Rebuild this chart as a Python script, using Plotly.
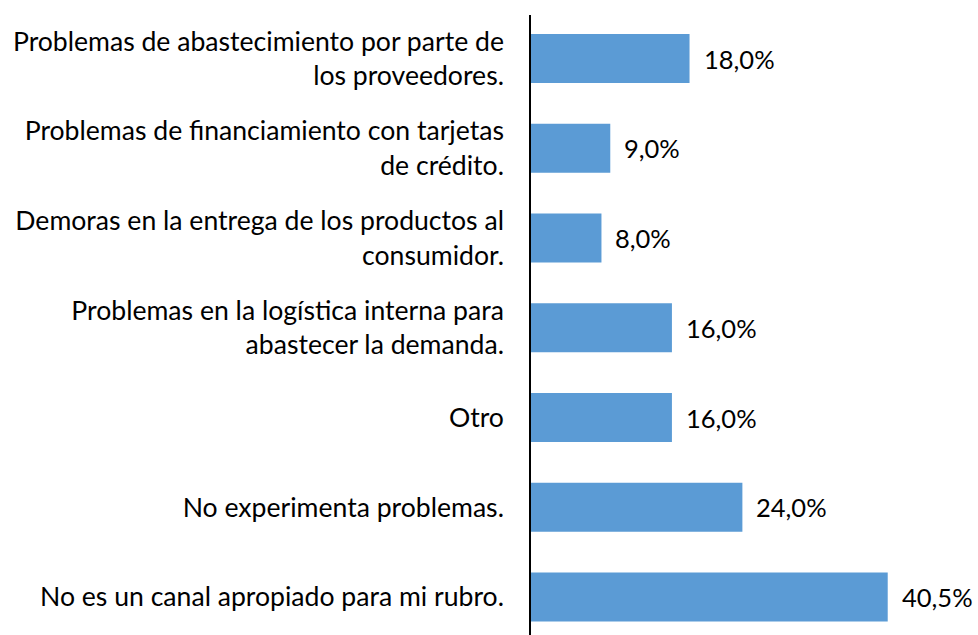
import plotly.graph_objects as go

categories = [
    "No es un canal apropiado para mi rubro.",
    "No experimenta problemas.",
    "Otro",
    "Problemas en la logística interna para<br>abastecer la demanda.",
    "Demoras en la entrega de los productos al<br>consumidor.",
    "Problemas de financiamiento con tarjetas<br>de crédito.",
    "Problemas de abastecimiento por parte de<br>los proveedores.",
]
values = [40.5, 24.0, 16.0, 16.0, 8.0, 9.0, 18.0]

FONT = "Lato"
BLUE = "#5B9BD5"

fig = go.Figure()
fig.add_trace(go.Bar(
    y=categories,
    x=values,
    orientation="h",
    marker=dict(color=BLUE, line=dict(width=0)),
    width=0.546,
    hoverinfo="skip",
))

for c, v in zip(categories, values):
    fig.add_annotation(
        x=v, y=c, xref="x", yref="y",
        text=f"{v:.1f}%".replace(".", ","),
        showarrow=False, xanchor="left", yanchor="middle",
        xshift=12, font=dict(family=FONT, size=25.5, color="black"),
    )

fig.update_layout(
    width=978, height=635,
    margin=dict(l=531, r=0, t=15, b=0),
    paper_bgcolor="white", plot_bgcolor="white",
    showlegend=False,
    font=dict(family=FONT, size=26, color="black"),
    xaxis=dict(range=[0, 50.75], showgrid=False, zeroline=False,
               showticklabels=False, showline=False),
    yaxis=dict(range=[-0.423, 6.485], showgrid=False, zeroline=False,
               showline=True, linecolor="black", linewidth=1.5,
               ticks="", ticklabelstandoff=20,
               tickfont=dict(family=FONT, size=26.6, color="black")),
)

fig.write_html("out.html", post_script="document.body.style.margin='0';",
               config={"displayModeBar": False})
